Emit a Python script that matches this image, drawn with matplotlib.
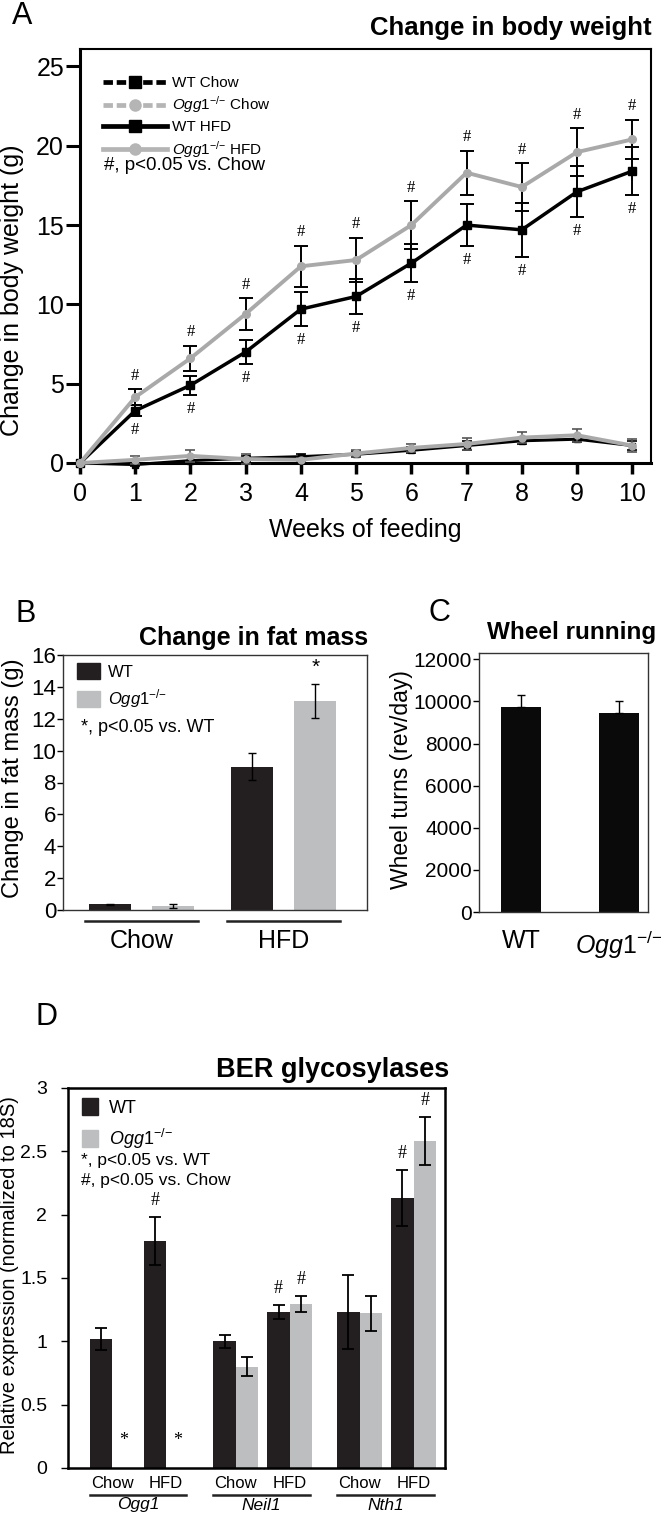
import numpy as np
import matplotlib
matplotlib.use('Agg')
import matplotlib.pyplot as plt
from matplotlib.lines import Line2D
from matplotlib.patches import Patch
from matplotlib.transforms import blended_transform_factory

# ---- data ----
weeks = np.arange(11)
wt_chow = [0, -0.1, 0.15, 0.3, 0.4, 0.55, 0.8, 1.1, 1.4, 1.5, 1.1]
wt_chow_err = [0, 0.1, 0.2, 0.15, 0.15, 0.2, 0.2, 0.3, 0.2, 0.2, 0.3]
ko_chow = [0, 0.2, 0.45, 0.25, 0.2, 0.6, 0.95, 1.2, 1.6, 1.75, 1.1]
ko_chow_err = [0, 0.25, 0.4, 0.3, 0.1, 0.25, 0.25, 0.4, 0.35, 0.4, 0.4]
wt_hfd = [0, 3.3, 4.9, 7.0, 9.7, 10.5, 12.6, 15.0, 14.7, 17.1, 18.4]
wt_hfd_err = [0, 0.35, 0.6, 0.75, 1.05, 1.1, 1.2, 1.3, 1.7, 1.6, 1.5]
ko_hfd = [0, 4.15, 6.6, 9.4, 12.4, 12.8, 15.0, 18.3, 17.4, 19.6, 20.4]
ko_hfd_err = [0, 0.5, 0.8, 1.0, 1.3, 1.4, 1.5, 1.4, 1.5, 1.5, 1.25]

diets = ['Chow', 'HFD']
fat_wt = [0.35, 9.0]
fat_wt_err = [0.05, 0.85]
fat_ko = [0.25, 13.1]
fat_ko_err = [0.15, 1.05]

wheel = [9750, 9450]
wheel_err = [540, 560]

genes = ['Ogg1', 'Neil1', 'Nth1']
ber_wt_chow = [1.02, 1.00, 1.23]
ber_wt_chow_err = [0.085, 0.05, 0.29]
ber_ko_chow = [0.0, 0.80, 1.22]
ber_ko_chow_err = [0.0, 0.075, 0.14]
ber_wt_hfd = [1.79, 1.23, 2.13]
ber_wt_hfd_err = [0.19, 0.055, 0.22]
ber_ko_hfd = [0.0, 1.295, 2.58]
ber_ko_hfd_err = [0.0, 0.063, 0.19]

# ---- style ----
W, H = 661, 1513
SERIF = ['Liberation Serif', 'DejaVu Serif']
GRAY = '#a9a9a9'
DARK = '#231f20'
LIGHT = '#bcbec0'

plt.rcParams['font.family'] = ['Liberation Sans', 'DejaVu Sans']
plt.rcParams['mathtext.fontset'] = 'custom'
plt.rcParams['mathtext.rm'] = 'Liberation Sans'
plt.rcParams['mathtext.it'] = 'Liberation Sans:italic'
KO = r'$\mathit{Ogg1}^{{-}/{-}}$'

fig = plt.figure(figsize=(W / 100, H / 100), dpi=100)


def box(l, t, r, b):
    return [l / W, 1 - b / H, (r - l) / W, (b - t) / H]


def ftext(x, y, s, **kw):
    fig.text(x / W, 1 - y / H, s, **kw)


# ================= A: body weight =================
axA = fig.add_axes(box(80, 49, 651, 463))
kw = dict(errorevery=(1, 1), clip_on=False)
axA.errorbar(weeks, wt_chow, yerr=wt_chow_err, color='black', lw=2.2, marker='s', ms=4,
             capsize=3.5, elinewidth=1.2, capthick=1.2, zorder=3, **kw)
axA.errorbar(weeks, ko_chow, yerr=ko_chow_err, color=GRAY, lw=2.8, marker='o', ms=5,
             ecolor='#555555', capsize=3.5, elinewidth=1.2, capthick=1.2, zorder=4, **kw)
axA.errorbar(weeks, wt_hfd, yerr=wt_hfd_err, color='black', lw=2.5, marker='s', ms=6,
             capsize=5, elinewidth=1.4, capthick=1.4, zorder=3, **kw)
axA.errorbar(weeks, ko_hfd, yerr=ko_hfd_err, color=GRAY, lw=2.8, marker='o', ms=5.5,
             ecolor='black', capsize=5, elinewidth=1.4, capthick=1.4, zorder=4, **kw)
for i in weeks[1:]:
    axA.text(i, ko_hfd[i] + ko_hfd_err[i] + 0.85, '#', ha='center', va='center',
             fontsize=12, family=SERIF)
    axA.text(i, wt_hfd[i] - wt_hfd_err[i] - 0.9, '#', ha='center', va='center',
             fontsize=12, family=SERIF)
axA.set_xlim(0, 10.34)
axA.set_ylim(0, 26.1)
axA.set_xticks(weeks)
axA.set_yticks([0, 5, 10, 15, 20, 25])
for s in ['left', 'bottom']:
    axA.spines[s].set_linewidth(2.2)
for s in ['top', 'right']:
    axA.spines[s].set_linewidth(1.5)
axA.tick_params(axis='y', length=10, width=2.2, labelsize=18, pad=1.5)
axA.tick_params(axis='x', length=8, width=2.5, labelsize=18, pad=6)
handles = [
    Line2D([], [], color='black', lw=3.4, ls=(0, (2.0, 0.8)), marker='s', ms=8),
    Line2D([], [], color='#b5b5b5', lw=3.4, ls=(0, (2.0, 0.8)), marker='o', ms=8),
    Line2D([], [], color='black', lw=3.4, marker='s', ms=8),
    Line2D([], [], color='#b5b5b5', lw=3.4, marker='o', ms=8),
]
labels = ['WT Chow', KO + ' Chow', 'WT HFD', KO + ' HFD']
axA.legend(handles, labels, loc='upper left', bbox_to_anchor=(103 / W, 1 - 76 / H),
           bbox_transform=fig.transFigure, frameon=False, handlelength=4.2,
           handletextpad=0.3, labelspacing=0.3, borderpad=0, borderaxespad=0,
           prop={'size': 11})
ftext(104, 166, '#, p<0.05 vs. Chow', fontsize=13.5, va='center')
ftext(365, 530, 'Weeks of feeding', fontsize=18, ha='center', va='center')
ftext(12, 290, 'Change in body weight (g)', fontsize=18, rotation=90, ha='center', va='center')
ftext(652, 28, 'Change in body weight', fontsize=18.5, fontweight='bold',
      ha='right', va='center')
ftext(12, 16, 'A', fontsize=22, ha='left', va='center')

# ================= B: fat mass =================
axB = fig.add_axes(box(63, 655, 367, 910))
xg = np.arange(len(diets))
off, bw = 0.225, 0.296
ekw = dict(ecolor='black', elinewidth=1.0, capsize=3, capthick=1.0)
axB.bar(xg - off, fat_wt, bw, yerr=fat_wt_err, color=DARK, error_kw=ekw)
axB.bar(xg + off, fat_ko, bw, yerr=fat_ko_err, color=LIGHT, error_kw=ekw)
axB.text(xg[1] + off, fat_ko[1] + fat_ko_err[1] + 1.05, '*', ha='center', va='center',
         fontsize=15)
axB.set_xlim(-0.553, 1.588)
axB.set_ylim(0, 16)
axB.set_yticks(np.arange(0, 17, 2))
axB.set_xticks([])
for s in axB.spines.values():
    s.set_linewidth(1.0)
    s.set_color('#333333')
axB.tick_params(axis='y', length=4, width=1.0, labelsize=16, pad=1)
trB = blended_transform_factory(axB.transData, fig.transFigure)
for g, name in zip(xg, diets):
    axB.add_line(Line2D([g - 0.40, g + 0.40], [1 - 921 / H] * 2, color='#222222', lw=1.8,
                        transform=trB, clip_on=False))
    axB.text(g, 1 - 941 / H, name, transform=trB, ha='center', va='center', fontsize=18)
axB.legend([Patch(color=DARK), Patch(color=LIGHT)], ['WT', KO], loc='upper left',
           bbox_to_anchor=(77 / W, 1 - 663 / H), bbox_transform=fig.transFigure,
           frameon=False, handlelength=1.4, handleheight=1.1, handletextpad=0.45,
           labelspacing=0.45, borderpad=0, borderaxespad=0, prop={'size': 12})
ftext(81, 727, '*, p<0.05 vs. WT', fontsize=13, va='center')
ftext(13, 778, 'Change in fat mass (g)', fontsize=17, rotation=90, ha='center', va='center')
ftext(368, 638, 'Change in fat mass', fontsize=18, fontweight='bold',
      ha='right', va='center')
ftext(15, 614, 'B', fontsize=22, ha='left', va='center')

# ================= C: wheel running =================
axC = fig.add_axes(box(479, 653, 648, 912))
xc = np.arange(len(wheel))
axC.bar(xc, wheel, 0.41, color='#0a0a0a',
        yerr=[np.zeros(len(wheel)), wheel_err],
        error_kw=dict(ecolor='black', elinewidth=1.0, capsize=3, capthick=1.0))
axC.set_xlim(-0.43, 1.30)
axC.set_ylim(0, 12300)
axC.set_yticks(np.arange(0, 12001, 2000))
axC.set_xticks(xc)
axC.set_xticklabels(['WT', KO])
for s in axC.spines.values():
    s.set_linewidth(1.0)
    s.set_color('#333333')
axC.tick_params(axis='y', length=4, width=1.0, labelsize=15, pad=1)
axC.tick_params(axis='x', length=0, labelsize=18, pad=12)
ftext(402, 780, 'Wheel turns (rev/day)', fontsize=16.5, rotation=90, ha='center', va='center')
ftext(656, 633, 'Wheel running', fontsize=17.5, fontweight='bold',
      ha='right', va='center')
ftext(428, 613, 'C', fontsize=22, ha='left', va='center')

# ================= D: BER glycosylases =================
axD = fig.add_axes(box(68, 1088, 445, 1468))
gx = np.arange(len(genes)) * 5.5
co = 1.2
ekw = dict(ecolor='black', elinewidth=1.3, capsize=4, capthick=1.3)
axD.bar(gx - co - 0.5, ber_wt_chow, 1, yerr=ber_wt_chow_err, color=DARK, error_kw=ekw)
axD.bar(gx + co - 0.5, ber_wt_hfd, 1, yerr=ber_wt_hfd_err, color=DARK, error_kw=ekw)
ko_c = np.array(ber_ko_chow)
ko_h = np.array(ber_ko_hfd)
m = ko_c > 0
axD.bar((gx - co + 0.5)[m], ko_c[m], 1, yerr=np.array(ber_ko_chow_err)[m], color=LIGHT,
        error_kw=ekw)
m = ko_h > 0
axD.bar((gx + co + 0.5)[m], ko_h[m], 1, yerr=np.array(ber_ko_hfd_err)[m], color=LIGHT,
        error_kw=ekw)
for i in range(len(genes)):
    axD.text(gx[i] + co - 0.5, ber_wt_hfd[i] + ber_wt_hfd_err[i] + 0.13, '#',
             ha='center', va='center', fontsize=13, family=SERIF)
    if ber_ko_hfd[i] > 0:
        axD.text(gx[i] + co + 0.5, ber_ko_hfd[i] + ber_ko_hfd_err[i] + 0.13, '#',
                 ha='center', va='center', fontsize=13, family=SERIF)
    else:
        for x in (gx[i] - co + 0.5, gx[i] + co + 0.5):
            axD.text(x, 0.22, '*', ha='center', va='center', fontsize=13, family=SERIF)
axD.set_xlim(-3.16, 13.6)
axD.set_ylim(0, 3)
axD.set_yticks(np.arange(0, 3.01, 0.5))
axD.set_yticklabels(['0', '0.5', '1', '1.5', '2', '2.5', '3'])
axD.set_xticks([])
for s in axD.spines.values():
    s.set_linewidth(1.8)
axD.tick_params(axis='y', length=5, width=1.0, labelsize=14, pad=10)
trD = blended_transform_factory(axD.transData, fig.transFigure)
for i, g in enumerate(genes):
    for c, name in zip((-co, co), diets):
        axD.text(gx[i] + c, 1 - 1484 / H, name, transform=trD, ha='center', va='center',
                 fontsize=12)
    axD.add_line(Line2D([gx[i] - 2.2, gx[i] + 2.1], [1 - 1495 / H] * 2, color='#222222',
                        lw=1.8, transform=trD, clip_on=False))
    axD.text(gx[i] - 0.05, 1 - 1505 / H, g, transform=trD, ha='center', va='center',
             fontsize=12.5, style='italic')
axD.legend([Patch(color=DARK), Patch(color=LIGHT)], ['WT', KO], loc='upper left',
           bbox_to_anchor=(82 / W, 1 - 1098 / H), bbox_transform=fig.transFigure,
           frameon=False, handlelength=0.9, handleheight=1.1, handletextpad=0.6,
           labelspacing=0.55, borderpad=0, borderaxespad=0, prop={'size': 13})
ftext(81, 1160, '*, p<0.05 vs. WT', fontsize=12.5, va='center')
ftext(81, 1181, '#, p<0.05 vs. Chow', fontsize=12.5, va='center')
ftext(10, 1275, 'Relative expression (normalized to 18S)', fontsize=14.5, rotation=90,
      ha='center', va='center')
ftext(333, 1070, 'BER glycosylases', fontsize=19.5, fontweight='bold',
      ha='center', va='center')
ftext(36, 1017, 'D', fontsize=22, ha='left', va='center')

fig.savefig('out.png', dpi=100)
